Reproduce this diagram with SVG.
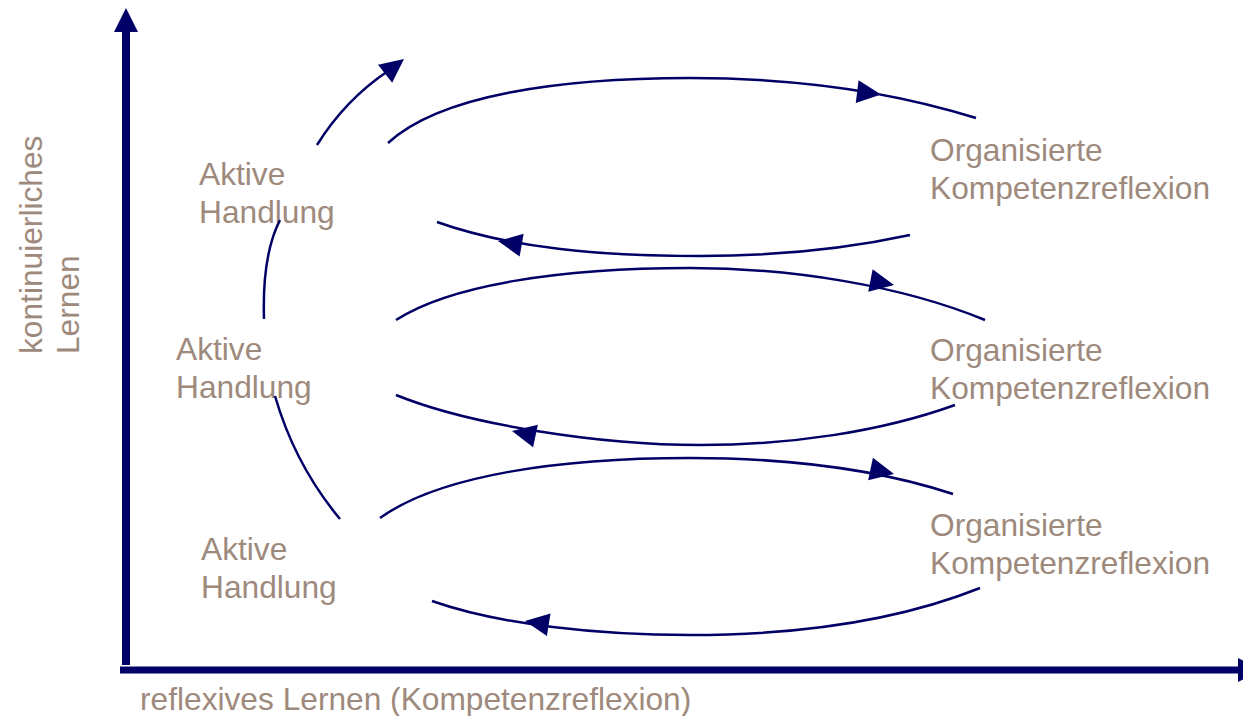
<svg xmlns="http://www.w3.org/2000/svg" xmlns:xlink="http://www.w3.org/1999/xlink" width="1243" height="716" viewBox="0 0 1243 716">
<style>
.t{font-family:"Liberation Sans",Arial,sans-serif;font-size:31.7px;fill:#9E8A7C}
.c{fill:none;stroke:#000066;stroke-width:2.5}
.ah{fill:#000066}
</style>
<defs>
<path id="head" d="M0,0 L-24,-11.5 L-24,11.5 Z"/>
</defs>
<rect width="1243" height="716" fill="#ffffff"/>
<g id="axes">
<line x1="126" y1="30" x2="126" y2="665" stroke="#000066" stroke-width="8"/>
<polygon class="ah" points="126,8 114,32 138,32"/>
<line x1="120" y1="670" x2="1240" y2="670" stroke="#000066" stroke-width="7"/>
<polygon class="ah" points="1262,670 1238,658 1238,682"/>
</g>
<g id="label-y">
<text class="t" transform="translate(42,354) rotate(-90)"><tspan x="0" y="0">kontinuierliches</tspan><tspan x="0" y="37">Lernen</tspan></text>
</g>
<g id="label-x">
<text class="t" x="140" y="710">reflexives Lernen (Kompetenzreflexion)</text>
</g>
<g id="node-aktive-1"><text class="t" x="199" y="185"><tspan x="199" y="185">Aktive</tspan><tspan x="199" y="223">Handlung</tspan></text></g>
<g id="node-aktive-2"><text class="t" x="176" y="360"><tspan x="176" y="360">Aktive</tspan><tspan x="176" y="398">Handlung</tspan></text></g>
<g id="node-aktive-3"><text class="t" x="201" y="560"><tspan x="201" y="560">Aktive</tspan><tspan x="201" y="598">Handlung</tspan></text></g>
<g id="node-org-1"><text class="t" x="930" y="161"><tspan x="930" y="161">Organisierte</tspan><tspan x="930" y="199">Kompetenzreflexion</tspan></text></g>
<g id="node-org-2"><text class="t" x="930" y="361"><tspan x="930" y="361">Organisierte</tspan><tspan x="930" y="399">Kompetenzreflexion</tspan></text></g>
<g id="node-org-3"><text class="t" x="930" y="536"><tspan x="930" y="536">Organisierte</tspan><tspan x="930" y="574">Kompetenzreflexion</tspan></text></g>
<g id="connectors">
<path class="c" d="M317,145 Q345,100 388,71"/>
<use href="#head" class="ah" transform="translate(404,59) rotate(-38)"/>
<path class="c" d="M264,319 Q262,255 280,220"/>
<path class="c" d="M275,396 Q295,465 340,519"/>

<path class="c" d="M388,143 C440,95 560,78 690,78 C780,78 880,88 976,118"/>
<use href="#head" class="ah" transform="translate(881,94.5) rotate(7)"/>
<path class="c" d="M910,235 C850,248 780,256 700,256 C600,256 510,248 437,222"/>
<use href="#head" class="ah" transform="translate(498,241) rotate(190)"/>

<path class="c" d="M396,320 C450,285 560,268 690,268 C790,268 900,285 985,320"/>
<use href="#head" class="ah" transform="translate(894,285) rotate(11)"/>
<path class="c" d="M955,405 C880,432 790,445 700,445 C600,445 470,425 396,395"/>
<use href="#head" class="ah" transform="translate(512,431) rotate(192)"/>

<path class="c" d="M380,518 C440,475 560,458 690,458 C790,458 880,470 953,494"/>
<use href="#head" class="ah" transform="translate(894,474) rotate(12)"/>
<path class="c" d="M980,588 C900,620 800,635 690,635 C600,635 500,625 432,601"/>
<use href="#head" class="ah" transform="translate(525,621) rotate(189)"/>
</g>
</svg>
